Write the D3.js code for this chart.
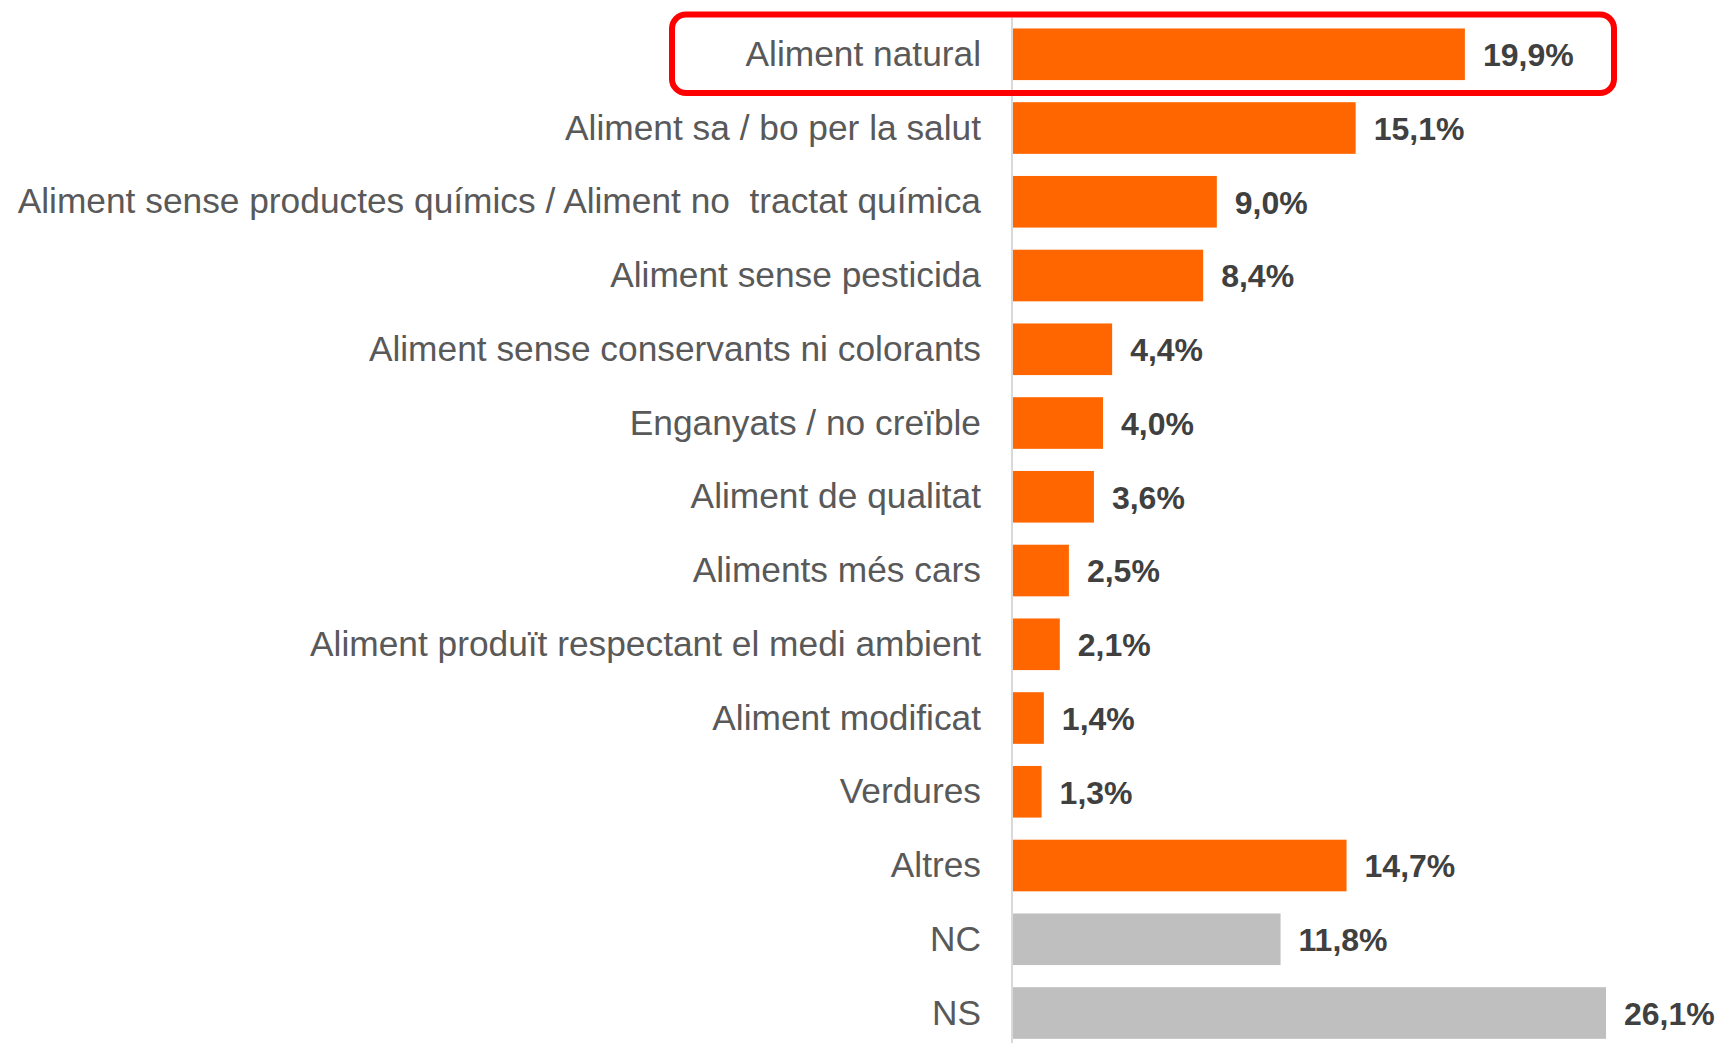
<!DOCTYPE html>
<html><head><meta charset="utf-8">
<script src="https://cdn.jsdelivr.net/npm/d3@7"></script>
<style>html,body{margin:0;padding:0;background:#fff;}svg{display:block;}</style>
</head><body>
<svg id="chart" width="1719" height="1043"></svg>
<script>
const categories = [
  "Aliment natural",
  "Aliment sa / bo per la salut",
  "Aliment sense productes químics / Aliment no  tractat química",
  "Aliment sense pesticida",
  "Aliment sense conservants ni colorants",
  "Enganyats / no creïble",
  "Aliment de qualitat",
  "Aliments més cars",
  "Aliment produït respectant el medi ambient",
  "Aliment modificat",
  "Verdures",
  "Altres",
  "NC",
  "NS"
];
const values = [19.9, 15.1, 9.0, 8.4, 4.4, 4.0, 3.6, 2.5, 2.1, 1.4, 1.3, 14.7, 11.8, 26.1];
const valueLabels = ["19,9%","15,1%","9,0%","8,4%","4,4%","4,0%","3,6%","2,5%","2,1%","1,4%","1,3%","14,7%","11,8%","26,1%"];
const grayCategories = ["NC", "NS"];
const highlighted = "Aliment natural";

const svg = d3.select("#chart");
const x = d3.scaleLinear().domain([0, 26.1]).range([1012, 1606]);
const y = d3.scaleBand().domain(categories).range([17.4, 1049.9]).paddingInner(0.3).paddingOuter(0.15);

// axis line
svg.append("line")
  .attr("x1", x(0)).attr("x2", x(0))
  .attr("y1", 18).attr("y2", 1043)
  .attr("stroke", "#d9d9d9").attr("stroke-width", 2);

const data = categories.map((c, i) => ({c, v: values[i], l: valueLabels[i]}));

svg.selectAll("rect.bar").data(data).enter().append("rect")
  .attr("class", "bar")
  .attr("x", x(0) + 1)
  .attr("y", d => y(d.c))
  .attr("width", d => x(d.v) - x(0) - 1)
  .attr("height", y.bandwidth())
  .attr("fill", d => grayCategories.includes(d.c) ? "#bfbfbf" : "#ff6600");

svg.selectAll("text.cat").data(data).enter().append("text")
  .attr("class", "cat")
  .attr("x", 981)
  .attr("y", d => y(d.c) + y.bandwidth() / 2)
  .attr("dy", "0.33em")
  .attr("text-anchor", "end")
  .attr("font-family", "'Liberation Sans', Arial, sans-serif")
  .attr("font-size", 35.3)
  .attr("fill", "#595959")
  .style("white-space", "pre")
  .text(d => d.c);

svg.selectAll("text.val").data(data).enter().append("text")
  .attr("class", "val")
  .attr("x", d => x(d.v) + 18)
  .attr("y", d => y(d.c) + y.bandwidth() / 2)
  .attr("dy", "0.37em")
  .attr("font-family", "'Liberation Sans Narrow', 'Arial Narrow', 'Liberation Sans', sans-serif")
  .attr("font-weight", "bold")
  .attr("font-size", 32)
  .attr("fill", "#404040")
  .text(d => d.l);

// highlight box
svg.append("rect")
  .attr("x", 672)
  .attr("y", y(highlighted) - 14)
  .attr("width", 942)
  .attr("height", y.bandwidth() + 27)
  .attr("rx", 14).attr("ry", 14)
  .attr("fill", "none")
  .attr("stroke", "#ff0000")
  .attr("stroke-width", 6);
</script>
</body></html>
